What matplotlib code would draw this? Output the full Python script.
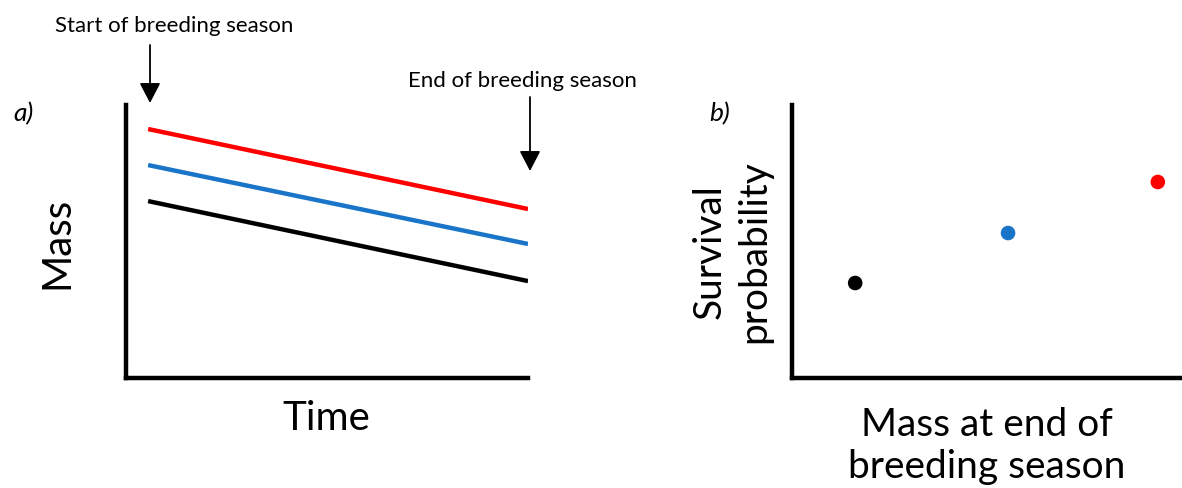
import matplotlib
matplotlib.use("Agg")
import matplotlib.pyplot as plt

plt.rcParams['font.family'] = ['Lato', 'DejaVu Sans']

W, H = 1182, 488

# Panel a: mass over time (start -> end of breeding season)
time_pts = [0.055, 1.0]
mass_red = [0.912, 0.619]
mass_blue = [0.780, 0.491]
mass_black = [0.648, 0.355]

# Panel b: survival vs mass at end of season
end_mass = [0.162, 0.554, 0.938]
survival = [0.348, 0.531, 0.718]
point_colors = ['black', '#1a75c9', '#ff0000']

fig = plt.figure(figsize=(W / 100, H / 100), dpi=100)

def fx(px):
    return px / W

def fy(py):
    return 1 - py / H

axa = fig.add_axes([fx(126), fy(378), (528 - 126) / W, (378 - 105) / H])
axb = fig.add_axes([fx(792), fy(378), (1182 - 792) / W, (378 - 105) / H])

for ax in (axa, axb):
    ax.set_xlim(0, 1)
    ax.set_ylim(0, 1)
    ax.set_xticks([])
    ax.set_yticks([])
    ax.spines['top'].set_visible(False)
    ax.spines['right'].set_visible(False)
    ax.spines['left'].set_linewidth(3.2)
    ax.spines['bottom'].set_linewidth(3.2)
    ax.patch.set_alpha(0)

axa.plot(time_pts, mass_red, color='#ff0000', lw=3.2, solid_capstyle='butt')
axa.plot(time_pts, mass_blue, color='#1a75c9', lw=3.2, solid_capstyle='butt')
axa.plot(time_pts, mass_black, color='black', lw=3.2, solid_capstyle='butt')

axb.scatter(end_mass, survival, s=90, c=point_colors, zorder=3, clip_on=False)

arrow_kw = dict(arrowstyle='-|>,head_width=0.4,head_length=0.77', color='black', lw=1.3,
                shrinkA=0, shrinkB=0, mutation_scale=16)
fig.add_artist(matplotlib.patches.FancyArrowPatch((fx(150), fy(45)), (fx(150), fy(103)),
                                                  transform=fig.transFigure, **arrow_kw))
fig.add_artist(matplotlib.patches.FancyArrowPatch((fx(530), fy(97)), (fx(530), fy(171)),
                                                  transform=fig.transFigure, **arrow_kw))

fig.text(fx(174), fy(26), 'Start of breeding season', ha='center', va='center', fontsize=16)
fig.text(fx(522), fy(81), 'End of breeding season', ha='center', va='center', fontsize=16)

fig.text(fx(23), fy(114), 'a)', ha='center', va='center', fontsize=19, style='italic')
fig.text(fx(720), fy(114), 'b)', ha='center', va='center', fontsize=19, style='italic')

fig.text(fx(57), fy(243), 'Mass', ha='center', va='center', fontsize=29, rotation=90)
fig.text(fx(326), fy(418), 'Time', ha='center', va='center', fontsize=29)
fig.text(fx(732), fy(252), 'Survival\nprobability', ha='center', va='center', fontsize=28,
         rotation=90, linespacing=1.3)
fig.text(fx(987), fy(446), 'Mass at end of\nbreeding season', ha='center', va='center',
         fontsize=28, linespacing=1.2)

fig.savefig('out.png', dpi=100)
